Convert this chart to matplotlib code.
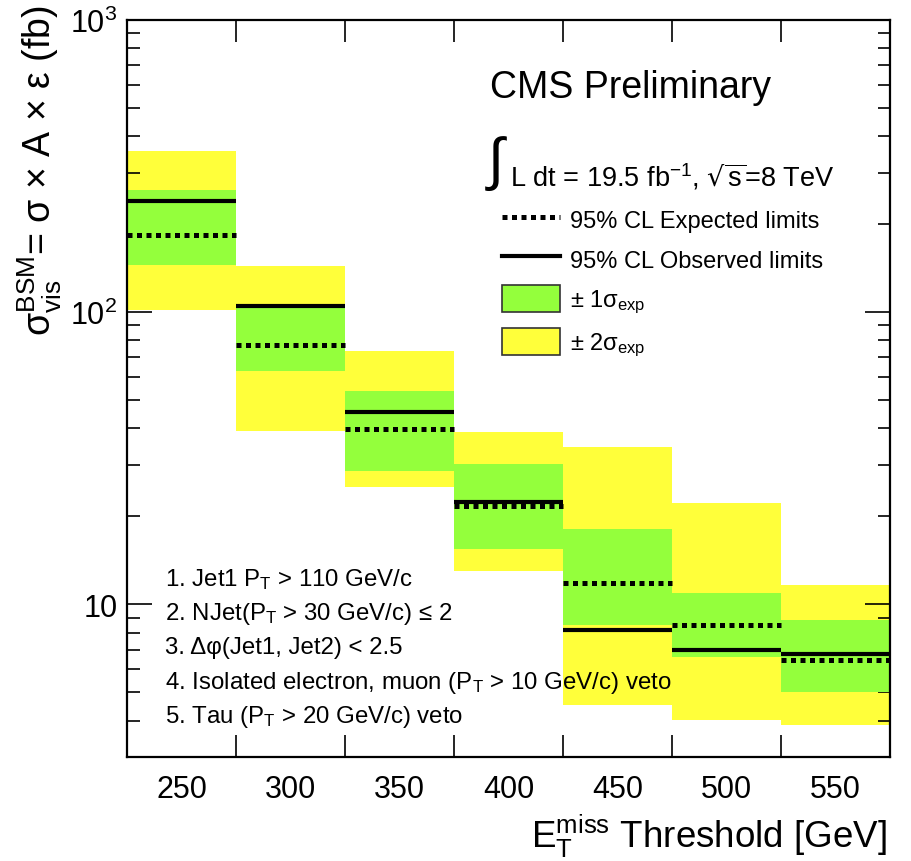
import matplotlib
matplotlib.use("Agg")
import matplotlib.pyplot as plt
from matplotlib.lines import Line2D
from matplotlib.patches import Patch
from matplotlib.ticker import FixedLocator, FixedFormatter, LogLocator, NullFormatter
import numpy as np

plt.rcParams['font.family'] = ['Liberation Sans', 'DejaVu Sans']
plt.rcParams['mathtext.default'] = 'regular'

# ---------------- data ----------------
thresholds = [250, 300, 350, 400, 450, 500, 550]
bin_width = 50
observed = [241, 105, 45.5, 22.4, 8.15, 6.96, 6.75]
expected = [184, 77.3, 39.9, 21.7, 11.8, 8.47, 6.43]
exp_minus1 = [145, 62.9, 28.6, 15.4, 8.47, 6.61, 4.99]
exp_plus1 = [262, 103, 53.5, 30.1, 18.1, 10.97, 8.82]
exp_minus2 = [102, 39.1, 25.1, 13.0, 4.52, 4.01, 3.85]
exp_plus2 = [357, 144, 73.5, 38.9, 34.5, 22.2, 11.6]

x_tick_labels = [str(t) for t in thresholds]
y_major_ticks = [10, 100, 1000]
y_tick_labels = ['10', '10$^{2}$', '10$^{3}$']

cuts = [
    '1. Jet1 P$_{T}$ > 110 GeV/c',
    '2. NJet(P$_{T}$ > 30 GeV/c) ≤ 2',
    '3. Δφ(Jet1, Jet2) < 2.5',
    '4. Isolated electron, muon (P$_{T}$ > 10 GeV/c) veto',
    '5. Tau (P$_{T}$ > 20 GeV/c) veto',
]

GREEN = '#94FF3C'
YELLOW = '#FFFF3A'

W, H = 911, 862
fig = plt.figure(figsize=(W / 100, H / 100), dpi=100)
L, R, T, B = 127, 890, 21, 758
ax = fig.add_axes([L / W, 1 - B / H, (R - L) / W, (B - T) / H])

x = np.array(thresholds, dtype=float)
m2 = np.array(exp_minus2); p2 = np.array(exp_plus2)
m1 = np.array(exp_minus1); p1 = np.array(exp_plus1)

ax.bar(x, p2 - m2, bottom=m2, width=bin_width, color=YELLOW, linewidth=0, zorder=1)
ax.bar(x, p1 - m1, bottom=m1, width=bin_width, color=GREEN, linewidth=0, zorder=2)
ax.hlines(expected, x - bin_width / 2, x + bin_width / 2, colors='black',
          linestyles=(0, (1, 0.9)), linewidth=3.6, zorder=3)
ax.hlines(observed, x - bin_width / 2, x + bin_width / 2, colors='black',
          linestyles='solid', linewidth=3.0, zorder=4)

ax.set_yscale('log')
ax.set_ylim(3, 1000)
ax.set_xlim(x[0] - bin_width / 2, x[-1] + bin_width / 2)

# x ticks: labels at centers, tick marks at bin edges
ax.xaxis.set_major_locator(FixedLocator(thresholds))
ax.xaxis.set_major_formatter(FixedFormatter(x_tick_labels))
edges = list(x[:-1] + bin_width / 2)
ax.xaxis.set_minor_locator(FixedLocator(edges))
ax.tick_params(axis='x', which='major', length=0, pad=12, labelsize=22)
ax.tick_params(axis='x', which='minor', length=16, width=1.2, direction='in',
               top=True, bottom=True)

ax.yaxis.set_major_locator(FixedLocator(y_major_ticks))
ax.yaxis.set_major_formatter(FixedFormatter(y_tick_labels))
ax.yaxis.set_minor_locator(LogLocator(base=10, subs=np.arange(2, 10)))
ax.yaxis.set_minor_formatter(NullFormatter())
ax.tick_params(axis='y', which='major', length=18, width=1.2, direction='in',
               left=True, right=True, labelsize=22, pad=7)
ax.tick_params(axis='y', which='minor', length=9, width=1.2, direction='in',
               left=True, right=True)

for s in ax.spines.values():
    s.set_linewidth(1.6)

# axis titles
fig.text(40 / W, 1 - 5 / H, 'σ$_{vis}^{BSM}$= σ × A × ε (fb)', rotation=90,
         ha='center', va='top', fontsize=27)
fig.text(887 / W, 1 - 848 / H, 'E$_{T}^{miss}$ Threshold [GeV]', ha='right',
         va='baseline', fontsize=26.5)

# header texts
fig.text(490 / W, 1 - 98 / H, 'CMS Preliminary', ha='left', va='baseline', fontsize=27)
fig.text(488 / W, 1 - 164 / H, '∫', ha='left', va='center', fontsize=42)
fig.text(510 / W, 1 - 187 / H, 'L dt = 19.5 fb$^{-1}$, $\\sqrt{s}$=8 TeV', ha='left',
         va='baseline', fontsize=19.5)

# legend
handles = [
    Line2D([], [], color='black', linestyle=(0, (1, 0.9)), linewidth=3.6),
    Line2D([], [], color='black', linestyle='solid', linewidth=3.0),
    Patch(facecolor=GREEN, edgecolor='#333333', linewidth=1.2),
    Patch(facecolor=YELLOW, edgecolor='#333333', linewidth=1.2),
]
labels = ['95% CL Expected limits', '95% CL Observed limits',
          '± 1σ$_{exp}$', '± 2σ$_{exp}$']
fs = 17
fpx = fs / 0.72
fig.legend(handles, labels, loc='upper left',
           bbox_to_anchor=(502 / W, 1 - 207 / H), frameon=False, fontsize=fs,
           borderpad=0, borderaxespad=0, handlelength=58 / fpx,
           handleheight=32 / fpx, labelspacing=13 / fpx, handletextpad=10 / fpx)

# cut list
for i, c in enumerate(cuts):
    fig.text(165 / W, 1 - (580 + 34.2 * i) / H, c, ha='left', va='center', fontsize=17.3)

fig.savefig('out.png', dpi=100)
